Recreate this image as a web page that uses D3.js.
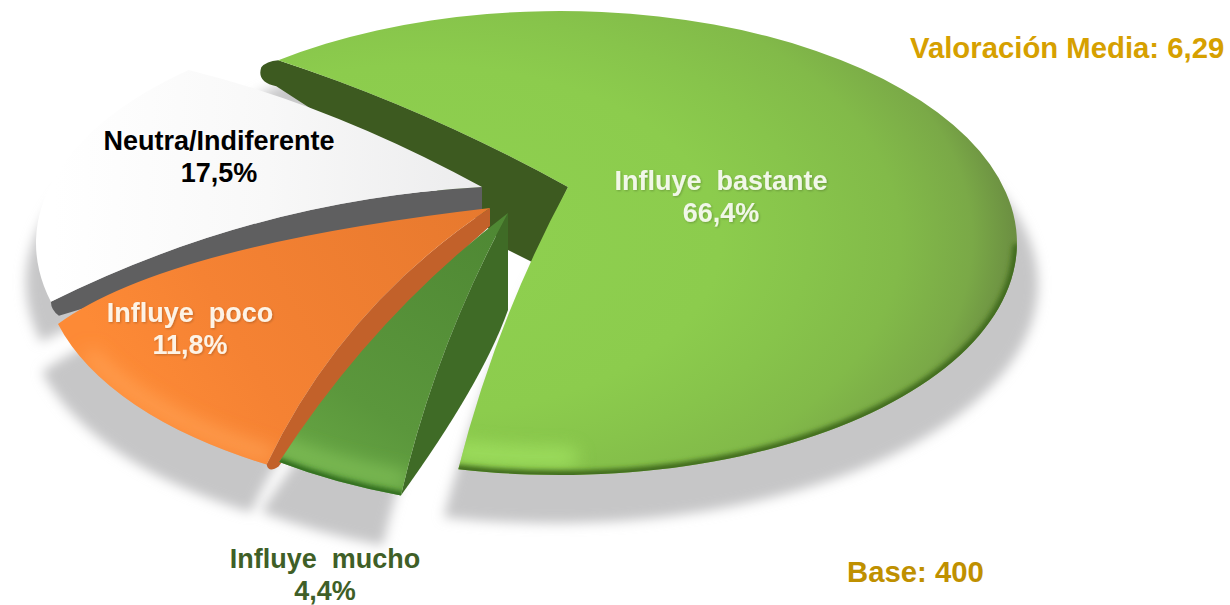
<!DOCTYPE html>
<html lang="es">
<head>
<meta charset="utf-8">
<script src="https://cdn.jsdelivr.net/npm/d3@7"></script>
<style>
  html, body { margin: 0; background: #fff; }
  svg { display: block; }
  text { font-family: "Liberation Sans", Arial, sans-serif; font-weight: 700; white-space: pre; }
</style>
</head>
<body>
<div id="chart"></div>
<script>
// datos
const categories = ["Influye  bastante", "Influye  mucho", "Influye  poco", "Neutra/Indiferente"];
const shares = [66.4, 4.4, 11.8, 17.5];
const noteMedia = "Valoración Media: 6,29";
const noteBase = "Base: 400";

// la tarta va en perspectiva y con porciones separadas: cada una tiene su propio
// centro de elipse, su vértice y la curvatura de los dos bordes rectos
const RX = 457, RY = 232;
const START = -131; // grados de pantalla donde empieza la primera porción
const sliceLayout = [
  { cx: 560, cy: 243, apex: [568, 187], turn: -1, squeeze: 0.967, bow1: [3, -15], bow2: [-18, -6], shadow: "translate(-44,34) scale(1.064,1.03)", label: [721, 190] },
  { cx: 555, cy: 277, apex: [508, 213], turn: 2.7, squeeze: 1.1, bow1: [-20, -5], bow2: [-20, -22], shadow: "translate(-18,50)", label: [325, 568] },
  { cx: 500, cy: 265, apex: [490, 208], turn: -1.85, squeeze: 1.05, bow1: [-36, -30], bow2: [-110, -20], shadow: "translate(-16,48)", label: [190, 322] },
  { cx: 493, cy: 243, apex: [482, 187], turn: -0.75, squeeze: 1, bow1: [-10, -45], bow2: [0, -22], shadow: "translate(-10,40)", label: [219, 150] },
];
const wallColors = ["#3d5a20", "#3f6b26", "#c2612a", "#5f5f60"];
const labelColors = ["#f1f7e8", "#3f5f27", "#fdf3e6", "#000"];
const topStops = [
  null,
  [[0, "#4e8733"], [0.75, "#5b973c"], [1, "#66a543"]],
  [[0, "#e7792e"], [0.7, "#f58233"], [1, "#fd8a36"]],
  [[0, "#ececed"], [0.5, "#f8f8f8"], [1, "#ffffff"]],
];
const drawOrder = [0, 3, 2, 1];

const width = 1230, height = 605;
const rad = (d) => (d * Math.PI) / 180;
const add = (p, o) => [p[0] + o[0], p[1] + o[1]];
const pt = (p) => `${p[0].toFixed(1)},${p[1].toFixed(1)}`;

const arcs = d3.pie().value((d) => d).sort(null)(shares);

// posición en pantalla de un ángulo de la tarta, sobre la elipse de la porción
function screenAngle(i, a) {
  const arc = arcs[i], l = sliceLayout[i];
  const mid = (arc.startAngle + arc.endAngle) / 2;
  const deg = ((mid + (a - mid) * l.squeeze) * 180) / Math.PI;
  return START + deg + l.turn;
}
function rim(i, a, r = 1) {
  const t = rad(screenAngle(i, a)), l = sliceLayout[i];
  return [l.cx + RX * r * Math.cos(t), l.cy + RY * r * Math.sin(t)];
}
function bowControl(a, b, bow) {
  return add([(a[0] + b[0]) / 2, (a[1] + b[1]) / 2], bow);
}
function geometry(i) {
  const l = sliceLayout[i], arc = arcs[i];
  const r1 = rim(i, arc.startAngle), r2 = rim(i, arc.endAngle);
  const large = (arc.endAngle - arc.startAngle) * l.squeeze > Math.PI ? 1 : 0;
  return { l, arc, r1, r2, large, c1: bowControl(l.apex, r1, l.bow1), c2: bowControl(l.apex, r2, l.bow2) };
}
function topPath(i) {
  const g = geometry(i);
  return `M${pt(g.l.apex)}Q${pt(g.c1)} ${pt(g.r1)}A${RX} ${RY} 0 ${g.large} 1 ${pt(g.r2)}Q${pt(g.c2)} ${pt(g.l.apex)}Z`;
}
function arcPath(i, from, to) {
  const a = rim(i, from), b = rim(i, to);
  return `M${pt(a)}A${RX} ${RY} 0 ${(to - from) * sliceLayout[i].squeeze > Math.PI ? 1 : 0} 1 ${pt(b)}`;
}
// paredes interiores: van por debajo de la cara de la porción siguiente
function wallPath(i) {
  const g = geometry(i), a = g.l.apex;
  if (i === 0) {
    const r = g.r1;
    const c = bowControl(a, r, g.l.bow1);
    return `M${pt(r)}Q${pt(c)} ${pt(a)}L${pt(add(a, [-36, 75]))}L${pt(add(a, [-60, 63]))}L${pt(add(a, [-90, 30]))}` +
      `L${pt(add(r, [-2, 26]))}Q${pt(add(r, [-22, 22]))} ${pt(add(r, [-17, 7]))}Q${pt(add(r, [-12, 1]))} ${pt(r)}Z`;
  }
  if (i === 1) {
    return `M${pt(a)}Q${pt(g.c1)} ${pt(g.r1)}Q${pt(add(g.r1, [81, -112]))} ${pt(add(a, [0, 97]))}Z`;
  }
  if (i === 2) {
    const r = g.r1;
    return `M${pt(a)}Q${pt(g.c1)} ${pt(r)}Q${pt(add(r, [2, 9]))} ${pt(add(r, [12, 2]))}Q${pt(add(g.c1, [40, 14]))} ${pt(add(a, [0, 18]))}Z`;
  }
  const r = g.r1;
  return `M${pt(a)}Q${pt(g.c1)} ${pt(r)}Q${pt(add(r, [0, 8]))} ${pt(add(r, [8, 14]))}Q${pt(add(g.c1, [15, 50]))} ${pt(add(a, [0, 30]))}Z`;
}

const svg = d3.select("#chart").append("svg").attr("width", width).attr("height", height)
  .attr("viewBox", `0 0 ${width} ${height}`).attr("role", "img")
  .attr("aria-label", "Tarta en perspectiva de la influencia declarada");
const defs = svg.append("defs");

[["blurShadow", 6], ["blurRim", 2.4], ["blurGlow", 9]].forEach(([id, sd]) => {
  defs.append("filter").attr("id", id).attr("filterUnits", "userSpaceOnUse")
    .attr("x", -100).attr("y", -100).attr("width", width + 200).attr("height", height + 200)
    .append("feGaussianBlur").attr("stdDeviation", sd);
});
const soft = defs.append("filter").attr("id", "labelSoft").attr("x", "-10%").attr("y", "-20%").attr("width", "120%").attr("height", "140%");
soft.append("feDropShadow").attr("dx", 1).attr("dy", 1).attr("stdDeviation", 1).attr("flood-color", "#000").attr("flood-opacity", 0.22);

// degradado de la cara: radial en la porción grande, lineal en las demás
const radial = defs.append("radialGradient").attr("id", "face0").attr("gradientUnits", "userSpaceOnUse")
  .attr("cx", 0).attr("cy", 0).attr("r", 1)
  .attr("gradientTransform", "translate(420,240) scale(600,350)");
[[0, "#8fd150"], [0.5, "#8ccc4d"], [0.65, "#87c44b"], [0.8, "#82ba49"], [0.92, "#7aa947"], [1, "#6a8c41"]].forEach(([o, c]) =>
  radial.append("stop").attr("offset", o).attr("stop-color", c));

topStops.forEach((stops, i) => {
  if (!stops) return;
  const g = geometry(i);
  const mid = rim(i, (g.arc.startAngle + g.arc.endAngle) / 2);
  const lin = defs.append("linearGradient").attr("id", `face${i}`).attr("gradientUnits", "userSpaceOnUse")
    .attr("x1", g.l.apex[0]).attr("y1", g.l.apex[1]).attr("x2", mid[0]).attr("y2", mid[1]);
  stops.forEach(([o, c]) => lin.append("stop").attr("offset", o).attr("stop-color", c));
});
arcs.forEach((_, i) => defs.append("clipPath").attr("id", `clip${i}`).append("path").attr("d", topPath(i)));

// sombra proyectada
const shadows = svg.append("g").attr("filter", "url(#blurShadow)");
drawOrder.forEach((i) => {
  shadows.append("path").attr("d", topPath(i)).attr("transform", sliceLayout[i].shadow).attr("fill", "#c6c6c7");
});

// brillos y bordes oscuros de cada cara, como tramos del arco (fracciones de la porción)
const rimStrokes = [
  [{ from: 0.56, to: 1, dx: 0, dy: 0, color: "#3f6a1c", w: 9, blur: "blurRim", o: 1 },
   { from: 0.94, to: 1, dx: 2, dy: -18, color: "#a8ea66", w: 18, blur: "blurGlow", o: 0.75 }],
  [{ from: 0, to: 1, dx: 0, dy: 0, color: "#2f6a1d", w: 8, blur: "blurRim", o: 1 },
   { from: 0, to: 1, dx: 0, dy: -16, color: "#82c159", w: 14, blur: "blurGlow", o: 1 }],
  [{ from: 0, to: 0.75, dx: 2, dy: -10, color: "#ffa254", w: 12, blur: "blurGlow", o: 1 }],
  [],
];

drawOrder.forEach((i) => {
  const g = geometry(i);
  const slice = svg.append("g").attr("class", "slice");
  slice.append("path").attr("d", wallPath(i)).attr("fill", wallColors[i]);
  slice.append("path").attr("d", topPath(i)).attr("fill", `url(#face${i})`);
  const span = g.arc.endAngle - g.arc.startAngle;
  const strokes = slice.append("g").attr("clip-path", `url(#clip${i})`);
  rimStrokes[i].slice().reverse().forEach((s) => {
    strokes.append("path").attr("d", arcPath(i, g.arc.startAngle + span * s.from, g.arc.startAngle + span * s.to))
      .attr("transform", `translate(${s.dx},${s.dy})`)
      .attr("fill", "none").attr("stroke", s.color).attr("stroke-width", s.w).attr("stroke-linecap", "round")
      .attr("opacity", s.o).attr("filter", `url(#${s.blur})`);
  });
});

// rótulos
const labels = svg.append("g").selectAll("text").data(categories).join("text")
  .attr("text-anchor", "middle").attr("font-size", 27).attr("fill", (d, i) => labelColors[i])
  .attr("filter", (d, i) => (i === 0 || i === 2 ? "url(#labelSoft)" : null))
  .attr("x", (d, i) => sliceLayout[i].label[0]).attr("y", (d, i) => sliceLayout[i].label[1]);
labels.append("tspan").text((d) => d);
labels.append("tspan").attr("x", (d, i) => sliceLayout[i].label[0]).attr("dy", 32)
  .text((d, i) => shares[i].toFixed(1).replace(".", ",") + "%");

svg.append("text").attr("x", 910).attr("y", 58).attr("font-size", 29.3).attr("fill", "#d6a000").text(noteMedia);
svg.append("text").attr("x", 847).attr("y", 582).attr("font-size", 29.3).attr("fill", "#bf9000").text(noteBase);
</script>
</body>
</html>
